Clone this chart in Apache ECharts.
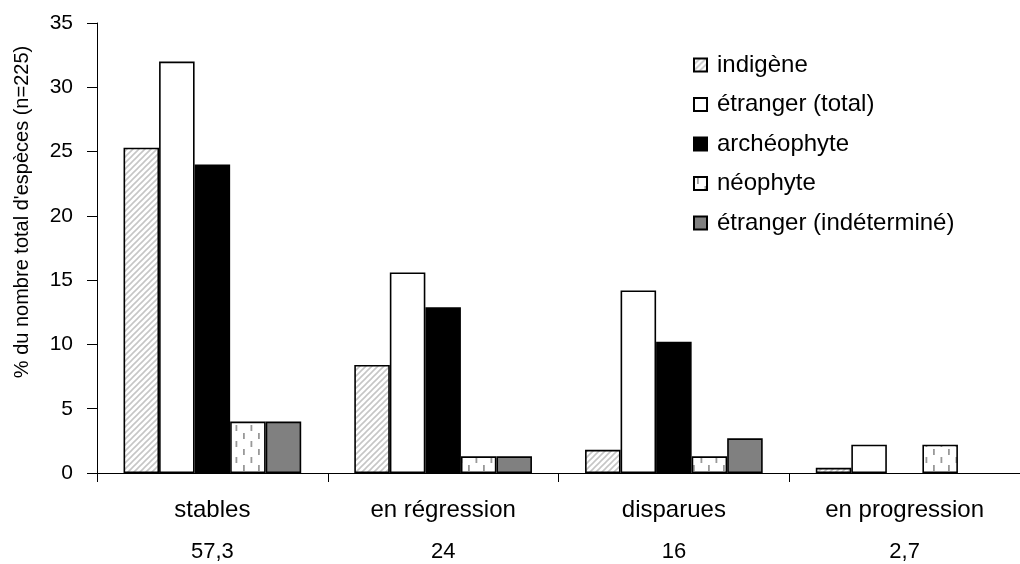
<!DOCTYPE html>
<html>
<head>
<meta charset="utf-8">
<script src="https://cdn.jsdelivr.net/npm/echarts@6/dist/echarts.min.js"></script>
<style>
  html, body { margin: 0; padding: 0; background: #fff; }
  #chart { width: 1020px; height: 564px; }
</style>
</head>
<body>
<div id="chart"></div>
<script>
// catégories et effectifs (% du total)
var categories = ['stables', 'en régression', 'disparues', 'en progression']
var totals = ['57,3', '24', '16', '2,7']
var seriesNames = ['indigène', 'étranger (total)', 'archéophyte', 'néophyte', 'étranger (indéterminé)']
var indigene = [25.3, 8.4, 1.8, 0.4]
var etrangerTotal = [32, 15.6, 14.2, 2.2]
var archeophyte = [24, 12.9, 10.2, null]
var neophyte = [4, 1.3, 1.3, 2.2]
var etrangerIndet = [4, 1.3, 2.7, null]
var yTicks = { min: 0, max: 35, interval: 5 }

// motif hachuré gris (indigène)
function hatchPattern () {
  var c = document.createElement('canvas')
  c.width = 6
  c.height = 6
  var ctx = c.getContext('2d')
  ctx.fillStyle = '#fff'
  ctx.fillRect(0, 0, 6, 6)
  ctx.strokeStyle = '#c6c6c6'
  ctx.lineWidth = 1.6
  ctx.beginPath()
  ctx.moveTo(0, 6); ctx.lineTo(6, 0)
  ctx.moveTo(-3, 3); ctx.lineTo(3, -3)
  ctx.moveTo(3, 9); ctx.lineTo(9, 3)
  ctx.stroke()
  return { image: c, repeat: 'repeat' }
}

// motif tirets verticaux (néophyte)
function dashPattern () {
  var c = document.createElement('canvas')
  c.width = 15
  c.height = 16
  var ctx = c.getContext('2d')
  ctx.fillStyle = '#fff'
  ctx.fillRect(0, 0, 15, 16)
  ctx.fillStyle = '#999'
  ctx.fillRect(3, 1, 1.8, 6)
  ctx.fillRect(10.5, 9, 1.8, 6)
  return { image: c, repeat: 'repeat' }
}

var fills = [hatchPattern(), '#ffffff', '#000000', dashPattern(), '#808080']
var values = [indigene, etrangerTotal, archeophyte, neophyte, etrangerIndet]

var series = seriesNames.map(function (name, i) {
  return {
    name: name,
    type: 'bar',
    data: values[i],
    barGap: '0%',
    barCategoryGap: '23%',
    itemStyle: {
      color: fills[i],
      borderColor: '#000',
      borderWidth: 1.6
    },
    emphasis: { disabled: true }
  }
})

var myChart = echarts.init(document.getElementById('chart'))
var option = {
  animation: false,
  textStyle: { fontFamily: 'Liberation Sans, Arial, sans-serif', color: '#000' },
  grid: {
    left: 97,
    top: 23,
    width: 932,
    bottom: 91,
    containLabel: false
  },
  legend: {
    orient: 'vertical',
    left: 688,
    top: 48,
    itemWidth: 13,
    itemHeight: 13,
    itemGap: 15.5,
    icon: 'rect',
    data: seriesNames,
    textStyle: {
      fontSize: 24,
      color: '#000',
      lineHeight: 24,
      padding: [0, 0, 0, 5]
    }
  },
  xAxis: {
    type: 'category',
    data: categories,
    axisLine: { lineStyle: { color: '#000', width: 1 } },
    axisTick: { show: true, length: 9, lineStyle: { color: '#000' } },
    axisLabel: {
      margin: 16,
      interval: 0,
      formatter: function (value, idx) {
        return '{a|' + value + '}\n{b|' + totals[idx] + '}'
      },
      rich: {
        a: { fontSize: 24, lineHeight: 42, color: '#000' },
        b: { fontSize: 22, lineHeight: 42, color: '#000' }
      }
    }
  },
  yAxis: {
    type: 'value',
    min: yTicks.min,
    max: yTicks.max,
    interval: yTicks.interval,
    axisLine: { show: true, lineStyle: { color: '#000', width: 1 } },
    axisTick: { show: true, length: 10, lineStyle: { color: '#000' } },
    splitLine: { show: false },
    axisLabel: { margin: 24, fontSize: 21, color: '#000' }
  },
  graphic: [{
    type: 'text',
    x: 22,
    y: 212,
    rotation: Math.PI / 2,
    style: {
      text: "% du nombre total d'espèces (n=225)",
      font: '20px "Liberation Sans", Arial, sans-serif',
      fill: '#000',
      align: 'center',
      verticalAlign: 'middle'
    }
  }],
  series: series
}
myChart.setOption(option)
window.addEventListener('resize', function () {
  myChart.resize()
})
</script>
</body>
</html>
